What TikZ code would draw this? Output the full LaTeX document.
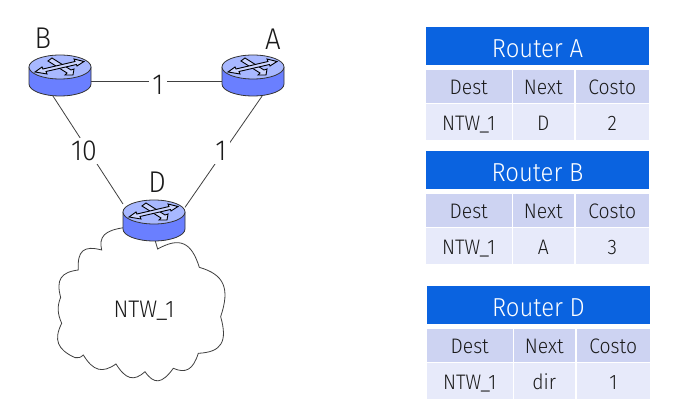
\documentclass[tikz,border=0pt]{standalone}
\usepackage{fontspec}
\usetikzlibrary{calc}
\setmainfont[FakeStretch=.92]{Fira Sans Light}
\definecolor{hdr}{HTML}{0A63E0}
\definecolor{rowa}{HTML}{CDD3F2}
\definecolor{rowb}{HTML}{E7EAFA}
\definecolor{rbody}{HTML}{6A7FFF}
\definecolor{rtop}{HTML}{A8B8FF}
\definecolor{txt}{HTML}{1A1A1A}
\tikzset{
  every node/.style={inner sep=0pt,outer sep=0pt,text=txt},
  routerbox/.style={minimum width=62pt,minimum height=41pt},
  link/.style={draw=black!75,line width=.8pt},
  weight/.style={fill=white,font=\fontsize{29}{29}\selectfont,inner xsep=3pt,inner ysep=3pt},
  rname/.style={font=\fontsize{30}{30}\selectfont},
  cellt/.style={font=\fontsize{21}{21}\selectfont},
  hdrcell/.style={fill=hdr,text=white,font=\fontsize{26}{26}\selectfont},
  cella/.style={fill=rowa,cellt},
  cellb/.style={fill=rowb,cellt},
  garrow/.style={draw=black,line width=.9pt,fill=rtop!60!white,line join=miter}
}
\newcommand{\bump}[3]{.. controls ($(#1)!.72!(#2)$) and ($(#3)!.72!(#2)$) .. (#3)}
\newcommand{\routershape}[1]{%
  \begin{scope}[shift={(#1)}]
    \fill[rbody] (-31,-8.5) -- (-31,8.5) arc[start angle=180,end angle=0,x radius=31,y radius=12] -- (31,-8.5) -- cycle;
    \draw[black!80,line width=.8pt] (-31,-8.5) -- (-31,8.5) arc[start angle=180,end angle=0,x radius=31,y radius=12] -- (31,-8.5);
    \draw[black!80,line width=.8pt,fill=rtop] (0,-8.5) ellipse[x radius=31,y radius=12];
    \begin{scope}[shift={(0,-8.5)}]
      \draw[garrow] (-12,-6) -- (-8,-9) -- (11,3) -- (14,2) -- (13,8) -- (5,8) -- (7,6) -- cycle;
      \draw[garrow] (-25,5) -- (-18,0) -- (-17,2) -- (15,-5.5) -- (14,-8) -- (24,-5.5) -- (17,-1) -- (16.5,-2.5) -- (-14,4.5) -- (-13,7) -- cycle;
    \end{scope}
  \end{scope}}
\newcommand{\rtable}[6]{%
  \begin{scope}[shift={(#2,#3)}]
    \node[hdrcell,minimum width=223pt,minimum height=38pt] (#1h) at (537.5,46) {\raisebox{-11.5pt}[0pt][0pt]{#4}};
    \node[cella,minimum width=85.5pt,minimum height=33pt] (#1a) at (468.75,86.5) {\raisebox{-7.8pt}[0pt][0pt]{Dest}};
    \node[cella,minimum width=61.5pt,minimum height=33pt] (#1b) at (543.25,86.5) {\raisebox{-7.8pt}[0pt][0pt]{Next}};
    \node[cella,minimum width=73.5pt,minimum height=33pt] (#1c) at (612.25,86.5) {\raisebox{-7.8pt}[0pt][0pt]{Costo}};
    \node[cellb,minimum width=85.5pt,minimum height=35.5pt] (#1d) at (468.75,122) {\raisebox{-8.7pt}[0pt][0pt]{NTW\_1}};
    \node[cellb,minimum width=61.5pt,minimum height=35.5pt] (#1e) at (543.25,122) {\raisebox{-8.7pt}[0pt][0pt]{#5}};
    \node[cellb,minimum width=73.5pt,minimum height=35.5pt] (#1f) at (612.25,122) {\raisebox{-8.7pt}[0pt][0pt]{#6}};
  \end{scope}}
\begin{document}
\begin{tikzpicture}[x=1pt,y=-1pt]
\useasboundingbox (0,0) rectangle (674,419);
\fill[white] (0,0) rectangle (674,419);
% cloud
\begin{scope}[shift={(30,190)},x=.3333pt,y=-.3333pt]
\draw[black!75,line width=.8pt,fill=white] (375,150) -- (383,177)
  \bump{383,177}{475,126}{508,232}
  \bump{508,232}{612,262}{572,380}
  \bump{572,380}{602,485}{505,490}
  \bump{505,490}{483,558}{430,535}
  \bump{430,535}{383,600}{345,545}
  \bump{345,545}{299,587}{258,522}
  \bump{258,522}{201,562}{160,495}
  \bump{160,495}{148,506}{135,503}
  \bump{135,503}{61,469}{95,400}
  \bump{95,400}{77,359}{92,322}
  \bump{92,322}{72,249}{145,240}
  \bump{145,240}{140,160}{215,180}
  \bump{215,180}{202,124}{282,113};
\end{scope}
\node[font=\fontsize{24}{24}\selectfont] (ntw) at (144,311) {NTW\_1};
% router anchor nodes
\node[routerbox] (rB) at (60,75.5) {};
\node[routerbox] (rA) at (253,75.5) {};
\node[routerbox] (rD) at (154,220.5) {};
% links
\draw[link] (rB.-11) -- (rA.191);
\draw[link] (rB.-109) -- (rD.152);
\draw[link] (rA.-66) -- (rD.23);
\node[weight] (wBA) at (158,85) {1};
\node[weight] (wBD) at (84,151) {10};
\node[weight] (wAD) at (221,151) {1};
\routershape{rB}
\routershape{rA}
\routershape{rD}
\node[rname] (lB) at (43,38.5) {B};
\node[rname] (lA) at (273,39) {A};
\node[rname] (lD) at (157,182) {D};
% tables
\rtable{ta}{0}{0}{Router A}{D}{2}
\rtable{tb}{0}{124}{Router B}{A}{3}
\rtable{td}{1}{259}{Router D}{dir}{1}
\end{tikzpicture}
\end{document}
